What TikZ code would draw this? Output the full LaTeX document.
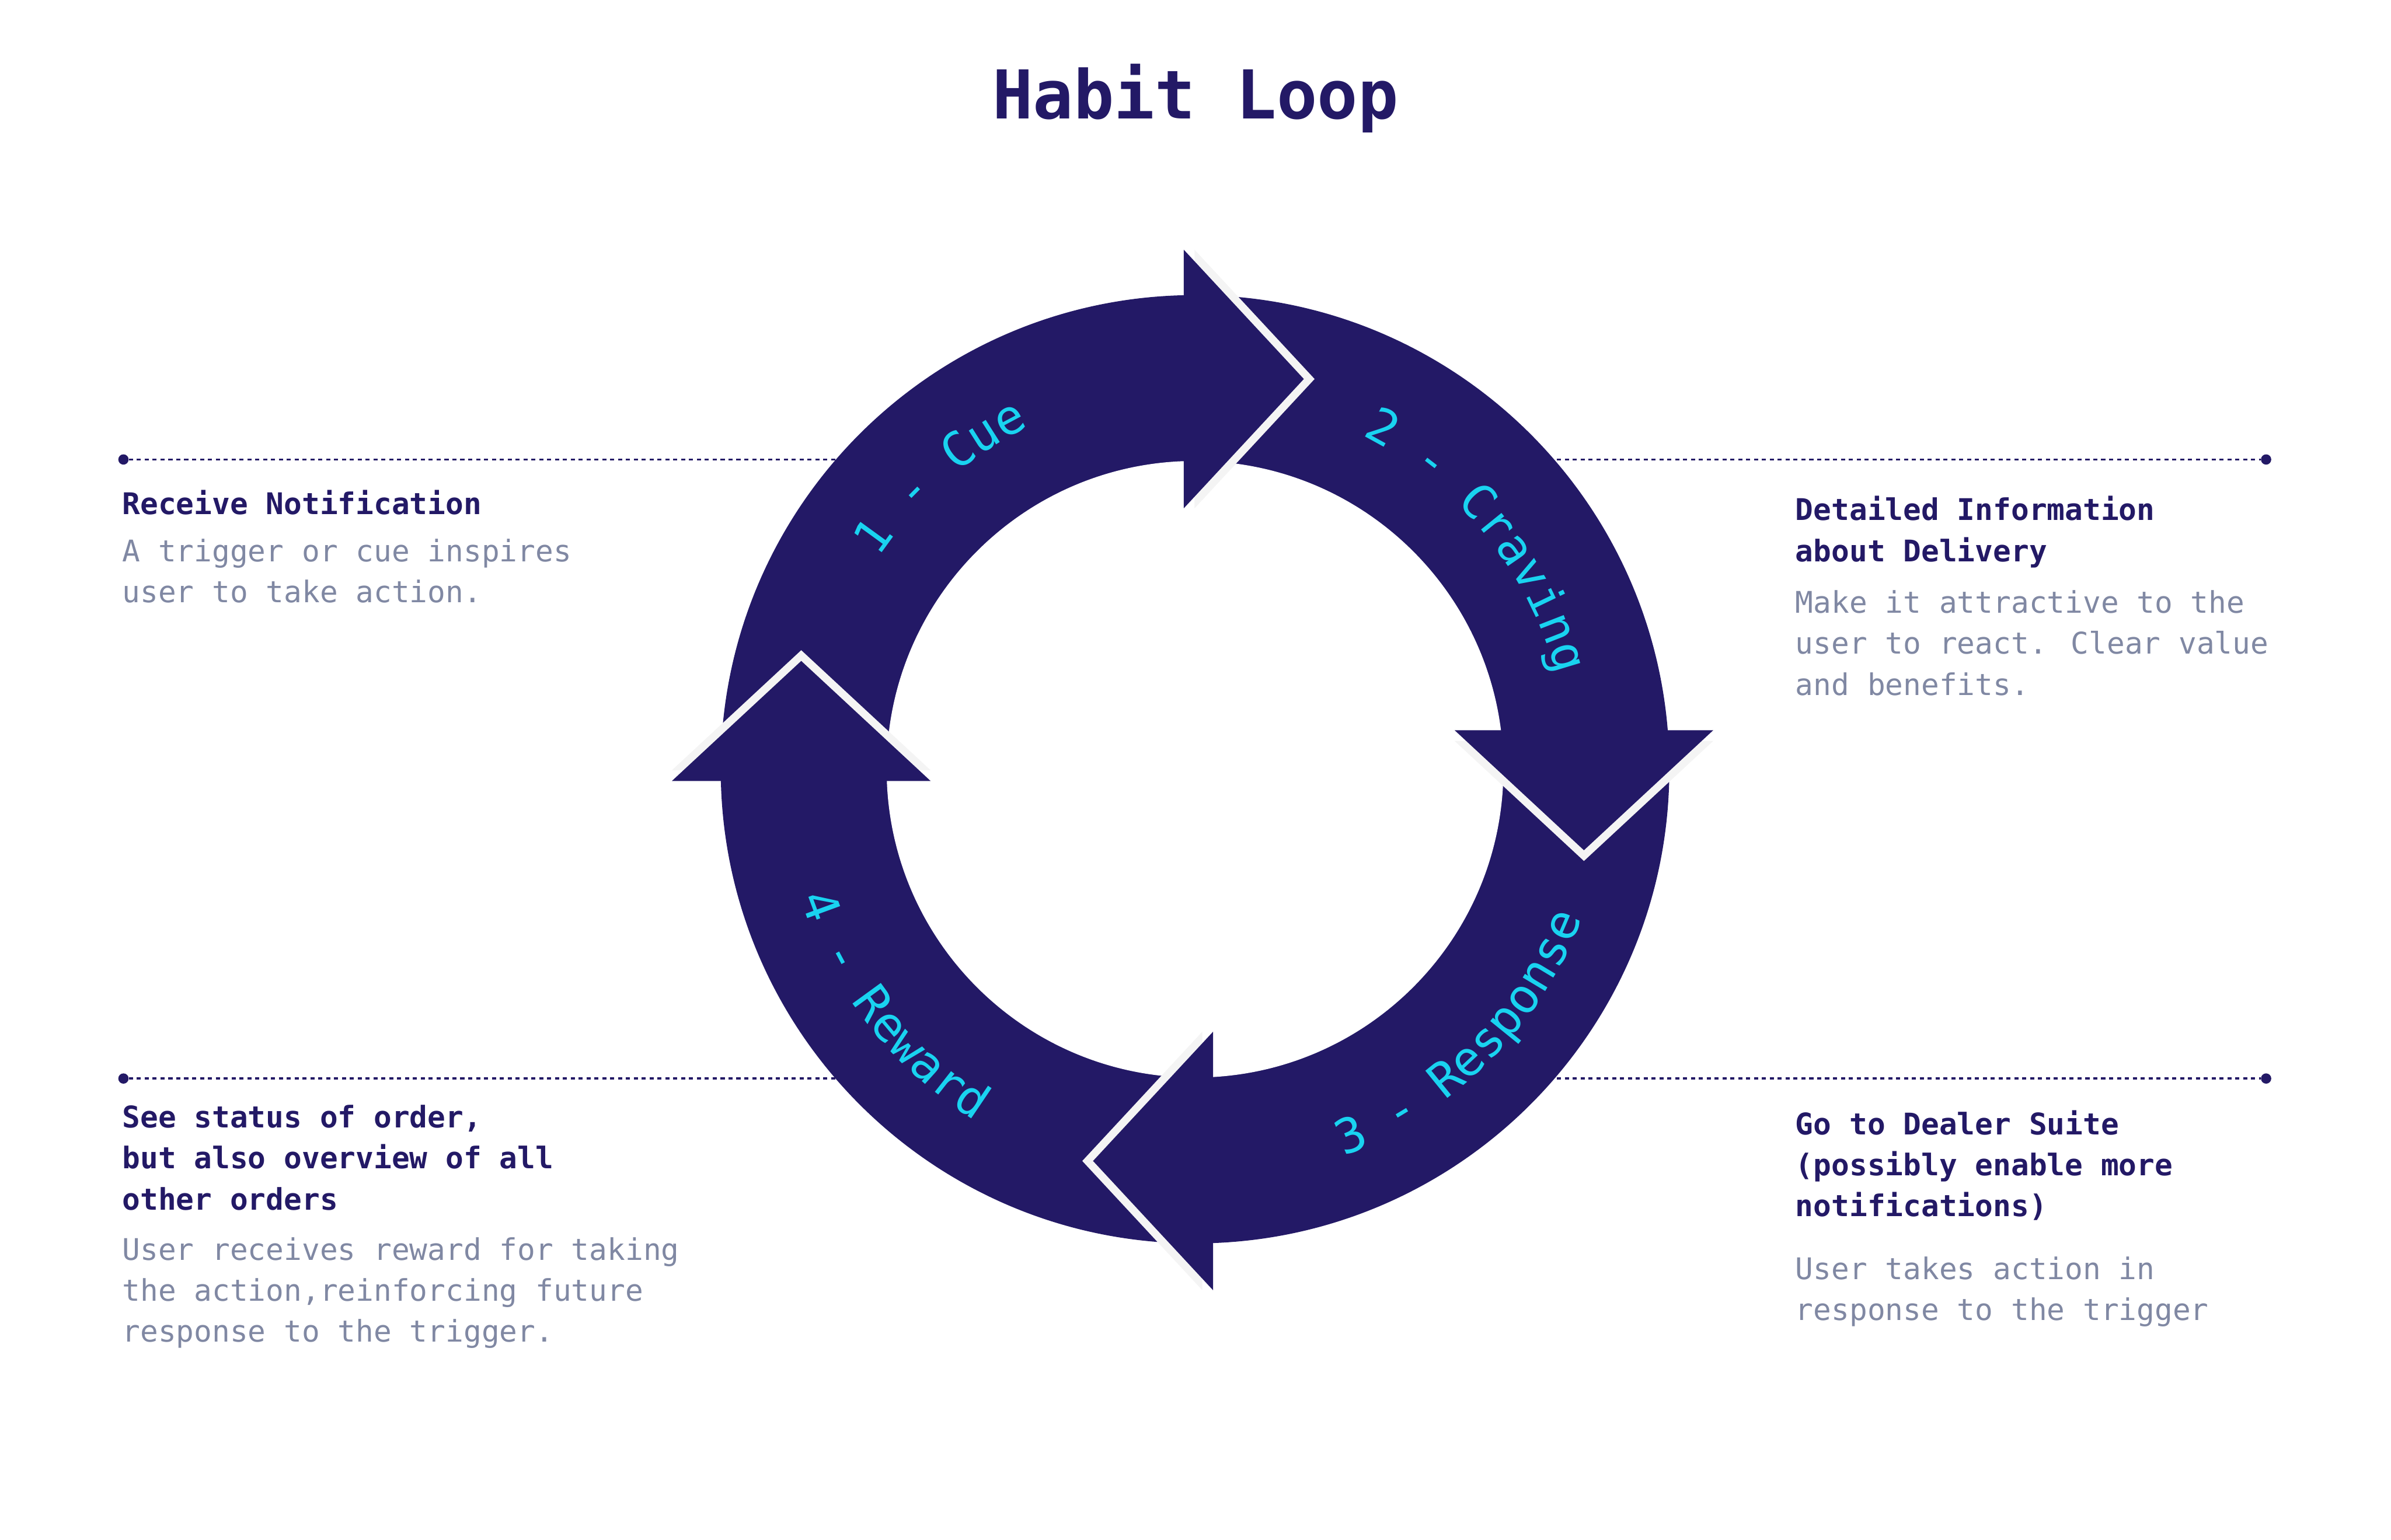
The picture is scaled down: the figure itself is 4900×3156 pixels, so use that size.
\documentclass[tikz,border=0pt]{standalone}
\usepackage{fontspec}
\newfontfamily\loopmono{DejaVu Sans Mono}
\usepackage{xcolor}
\definecolor{navy}{HTML}{231966}
\definecolor{cyanlab}{HTML}{19D3F0}
\definecolor{slate}{HTML}{8088A3}
\definecolor{rim}{HTML}{F4F4F4}
\usepackage{tikz}
\usetikzlibrary{decorations.text}
\newcommand\ringfont{\loopmono\fontsize{28pt}{34pt}\selectfont}

\begin{document}
\begin{tikzpicture}[x=0.1mm,y=0.1mm,
  headline/.style={font=\loopmono\bfseries\fontsize{17.4pt}{23.9pt}\selectfont,text=navy,anchor=base west,align=left,inner sep=0pt},
  blurb/.style={font=\loopmono\fontsize{17.4pt}{23.9pt}\selectfont,text=slate,anchor=base west,align=left,inner sep=0pt},
  endpt/.style={circle,fill=navy,minimum size=6pt,inner sep=0pt},
  guide/.style={navy,line width=1.2pt,dash pattern=on 2.4pt off 2.2pt},
  ringlabel/.style={decorate,decoration={text along path,text align=center,text color=cyanlab,text={|\ringfont|#1}}}]
  \useasboundingbox (0,0) rectangle (4900,3156);
  \coordinate (c) at (2449,1579);
  \node[font=\loopmono\bfseries\fontsize{39.3pt}{47pt}\selectfont,text=navy,anchor=base] (title) at (2450,2912) {Habit Loop};
  \node[endpt] (tl) at (253,2214) {};
  \node[endpt] (tr) at (4644,2214) {};
  \node[endpt] (bl) at (253,945) {};
  \node[endpt] (br) at (4644,945) {};
  \draw[guide] (tl) -- (tr);
  \draw[guide] (bl) -- (br);
  \fill[navy] (c) circle[radius=972];
  \fill[white] (c) circle[radius=632];
  \foreach \bx/\by/\dir in {2426/2379/0,3246/1659/-90,2486/776/180,1642/1555/90}{
    \begin{scope}[shift={(\bx,\by)},rotate=\dir]
      \fill[rim] (22,265) -- (268,0) -- (22,-265) -- cycle;
      \fill[navy] (0,265) -- (246,0) -- (0,-265) -- cycle;
    \end{scope}}
  \path[ringlabel={1 - Cue}] (c) ++(176:780) arc[start angle=176,end angle=86,radius=780];
  \path[ringlabel={2 - Craving}] (c) ++(84:765) arc[start angle=84,end angle=-6,radius=765];
  \path[ringlabel={3 - Response}] (c) ++(-90:850) arc[start angle=-90,end angle=0,radius=850];
  \path[ringlabel={4 - Reward}] (c) ++(173:850) arc[start angle=173,end angle=263,radius=850];
  \node[headline] (cuehd) at (250,2101) {Receive Notification};
  \node[blurb] (cuetx) at (250,1921) {A trigger or cue inspires\\user to take action.};
  \node[headline] (crvhd) at (3679,2005) {Detailed Information\\about Delivery};
  \node[blurb] (crvtx) at (3679,1731) {Make it attractive to the\\user to react. Clear value\\and benefits.};
  \node[headline] (rsphd) at (3679,662) {Go to Dealer Suite\\(possibly enable more\\notifications)};
  \node[blurb] (rsptx) at (3679,449) {User takes action in\\response to the trigger};
  \node[headline] (rwdhd) at (250,676) {See status of order,\\but also overview of all\\other orders};
  \node[blurb] (rwdtx) at (250,405) {User receives reward for taking\\the action,reinforcing future\\response to the trigger.};
\end{tikzpicture}
\end{document}
